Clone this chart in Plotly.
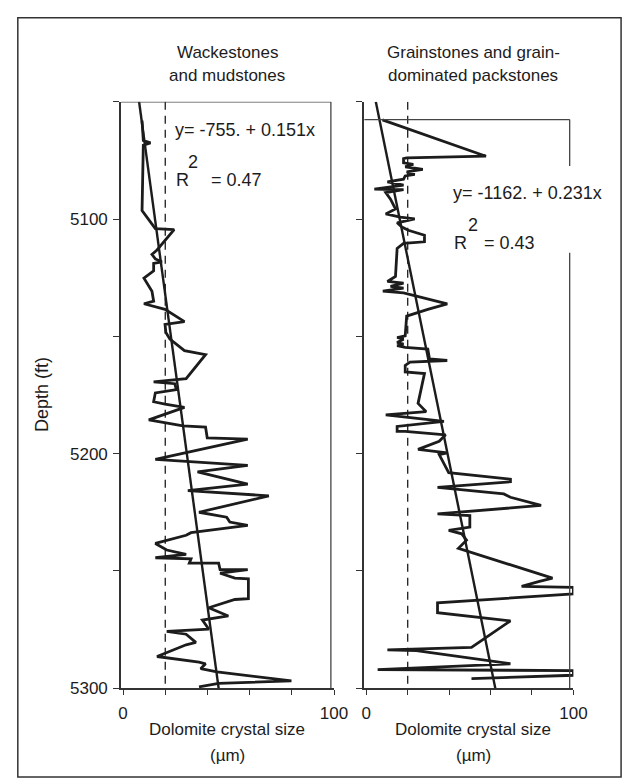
import plotly.graph_objects as go

W, H = 630, 780

# ---------------- data ----------------
depth_ticks = [5050, 5100, 5150, 5200, 5250, 5300]
depth_labels = ["", "5100", "", "5200", "", "5300"]
size_ticks = [0, 20, 40, 60, 80, 100]
size_labels = ["0", "", "", "", "", "100"]

left_size = [9.0, 9.6, 13.0, 9.6, 9.0, 15.3, 24.2, 16.1, 13.7, 15.3, 18.4, 14.5, 14.5, 9.9, 13.7,
             14.5, 9.9, 19.9, 29.1, 19.9, 20.3, 22.2, 29.1, 39.1, 29.9, 14.5, 24.5, 25.3, 15.3,
             14.5, 19.9, 29.1, 12.2, 28.4, 39.1, 39.9, 59.1, 15.3, 59.1, 35.3, 59.1, 30.7, 69.1,
             36.0, 49.1, 50.6, 59.1, 32.2, 29.9, 15.3, 20.7, 29.9, 15.3, 32.2, 31.4, 45.3, 46.0,
             59.1, 46.0, 53.0, 59.4, 59.4, 53.0, 40.6, 49.9, 37.6, 40.6, 20.7, 29.9, 34.5, 29.9,
             16.1, 36.0, 39.1, 36.8, 44.5, 79.8, 45.3, 36.0]
left_depth = [5058.0, 5066.5, 5067.5, 5068.5, 5096.4, 5104.1, 5104.5, 5113.2, 5115.1, 5117.0,
              5118.2, 5118.9, 5122.1, 5125.2, 5130.8, 5135.0, 5136.1, 5138.5, 5143.7, 5144.9,
              5148.4, 5151.2, 5156.1, 5157.8, 5168.0, 5169.4, 5170.2, 5172.7, 5174.1, 5177.9,
              5178.9, 5180.3, 5185.6, 5188.2, 5188.7, 5193.3, 5193.8, 5202.5, 5205.0, 5207.8,
              5213.0, 5215.8, 5218.0, 5225.0, 5227.1, 5229.2, 5230.6, 5233.7, 5234.8, 5238.3,
              5241.1, 5243.0, 5244.4, 5244.9, 5246.7, 5246.7, 5249.5, 5249.5, 5251.0, 5253.1,
              5253.4, 5261.8, 5262.2, 5265.7, 5269.2, 5271.0, 5274.8, 5275.8, 5277.0, 5280.5,
              5281.5, 5286.5, 5288.9, 5289.6, 5291.7, 5293.1, 5296.9, 5298.0, 5299.4]

right_size = [7.8, 57.8, 19.5, 18.0, 18.0, 22.7, 18.8, 27.3, 19.5, 23.4, 18.8, 18.0, 10.2, 18.0,
              3.9, 18.0, 9.4, 11.7, 14.1, 9.4, 16.4, 23.4, 14.9, 17.2, 20.3, 28.1, 28.1, 18.0,
              14.9, 14.1, 10.2, 18.0, 11.7, 18.0, 8.0, 18.0, 39.1, 29.7, 19.5, 18.8, 14.9, 18.0,
              14.9, 18.0, 14.9, 18.8, 29.7, 30.5, 39.1, 21.1, 18.8, 18.8, 28.1, 25.0, 28.9, 9.4,
              37.5, 14.9, 14.9, 18.8, 38.3, 35.2, 25.0, 39.1, 35.2, 39.8, 69.6, 69.6, 34.4, 66.4,
              69.6, 84.4, 34.4, 50.0, 50.0, 39.8, 46.1, 48.4, 44.5, 89.9, 83.6, 75.0, 100.0,
              100.0, 34.4, 34.4, 69.6, 50.8, 10.2, 24.2, 69.6, 5.5, 100.0, 100.0, 50.8]
right_depth = [5057.7, 5073.2, 5073.9, 5074.2, 5076.0, 5076.7, 5077.7, 5078.8, 5079.9, 5080.9,
               5081.6, 5083.0, 5084.1, 5085.5, 5087.2, 5087.5, 5088.7, 5091.5, 5095.7, 5097.8,
               5099.2, 5099.9, 5101.6, 5103.4, 5104.8, 5106.9, 5109.7, 5110.4, 5112.5, 5124.5,
               5126.6, 5127.3, 5128.7, 5129.4, 5130.7, 5131.5, 5136.2, 5138.5, 5141.4, 5149.8,
               5150.5, 5151.2, 5152.6, 5153.3, 5154.0, 5154.7, 5155.4, 5159.6, 5160.3, 5161.0,
               5162.4, 5165.2, 5165.9, 5178.6, 5182.1, 5183.5, 5186.3, 5188.4, 5190.5, 5190.5,
               5192.0, 5194.7, 5198.2, 5199.7, 5200.4, 5208.1, 5210.9, 5212.0, 5214.4, 5217.2,
               5218.6, 5222.1, 5225.7, 5226.4, 5231.3, 5232.7, 5234.2, 5236.9, 5240.4, 5253.1,
               5254.5, 5256.6, 5257.0, 5259.8, 5263.6, 5267.8, 5271.3, 5282.6, 5283.7, 5284.0,
               5289.6, 5292.1, 5292.5, 5294.5, 5295.9]

reg_depth = [5050, 5300]
reg_left_size = [7.6, 45.3]    # y = -755. + 0.151x
reg_right_size = [4.6, 62.3]   # y = -1162. + 0.231x
ref_size = [20, 20]            # dashed reference line

titles_left = ["Wackestones", "and mudstones"]
titles_right = ["Grainstones and grain-", "dominated packstones"]
xtitle = ["Dolomite crystal size", "(µm)"]
ytitle = "Depth (ft)"
eq_left = ["y= -755. + 0.151x", "R", "2", "= 0.47"]
eq_right = ["y= -1162. + 0.231x", "R", "2", "= 0.43"]

# ---------------- helpers ----------------
FONT = "Liberation Sans, Arial, Helvetica, sans-serif"
INK = "#1c1c1c"


def px(x):
    return x / W


def py(y):
    return 1 - y / H


fig = go.Figure()

for xa, ya, s, d, rs in [("x", "y", left_size, left_depth, reg_left_size),
                         ("x2", "y2", right_size, right_depth, reg_right_size)]:
    fig.add_trace(go.Scatter(x=ref_size, y=reg_depth, xaxis=xa, yaxis=ya, mode="lines",
                             line=dict(color=INK, width=1.3, dash="8px,6px"),
                             showlegend=False, hoverinfo="skip"))
    fig.add_trace(go.Scatter(x=rs, y=reg_depth, xaxis=xa, yaxis=ya, mode="lines",
                             line=dict(color=INK, width=2.4), showlegend=False))
    fig.add_trace(go.Scatter(x=s, y=d, xaxis=xa, yaxis=ya, mode="lines",
                             line=dict(color=INK, width=2.8), showlegend=False,
                             cliponaxis=False))

ydom = [py(689), py(95)]
axis_common = dict(showgrid=False, zeroline=False, showline=True, linecolor="#333",
                   linewidth=1.5, ticks="outside", tickcolor="#333", tickwidth=1.3,
                   tickfont=dict(family=FONT, size=17, color=INK))

fig.update_layout(
    width=W, height=H, margin=dict(l=0, r=0, t=0, b=0),
    paper_bgcolor="white", plot_bgcolor="white",
    xaxis=dict(domain=[px(113), px(332)], range=[-1, 100], anchor="y",
               tickvals=size_ticks, ticktext=size_labels, ticklen=5,
               ticklabelstandoff=4, **axis_common),
    yaxis=dict(domain=ydom, range=[5300, 5050], anchor="x",
               tickvals=depth_ticks, ticktext=depth_labels, ticklen=6,
               ticklabelstandoff=2, **axis_common),
    xaxis2=dict(domain=[px(363), px(578)], range=[-1, 100], anchor="y2",
                tickvals=size_ticks, ticktext=size_labels, ticklen=5,
                ticklabelstandoff=4, **axis_common),
    yaxis2=dict(domain=ydom, range=[5300, 5050], anchor="x2",
                tickvals=depth_ticks, ticktext=[""] * len(depth_ticks), ticklen=6,
                **axis_common),
)

shapes = [
    # outer frame
    dict(type="rect", xref="paper", yref="paper", x0=px(7), x1=px(627), y0=py(779), y1=py(10),
         line=dict(color="#333", width=1.5)),
    # left panel box: top and right
    dict(type="line", xref="x", yref="y", x0=-1, x1=98.5, y0=5050, y1=5050,
         line=dict(color="#444", width=1.3)),
    dict(type="line", xref="x", yref="y", x0=98.5, x1=98.5, y0=5050, y1=5300,
         line=dict(color="#444", width=1.3)),
    # right panel box: top and right
    dict(type="line", xref="x2", yref="y2", x0=-1, x1=98.2, y0=5057.6, y1=5057.6,
         line=dict(color="#444", width=1.3)),
    dict(type="line", xref="x2", yref="y2", x0=98.2, x1=98.2, y0=5057.6, y1=5300,
         line=dict(color="#444", width=1.3)),
    # white patch behind right equation
    dict(type="rect", xref="paper", yref="paper", x0=px(448), x1=px(620), y0=py(248),
         y1=py(160), fillcolor="white", line=dict(width=0), layer="above"),
]
fig.update_layout(shapes=shapes)

ann = []


def text(t, x, y, size=17, xanchor="center", angle=0):
    ann.append(dict(text=t, x=px(x), y=py(y), xref="paper", yref="paper", showarrow=False,
                    xanchor=xanchor, yanchor="middle", textangle=angle,
                    font=dict(family=FONT, size=size, color=INK)))


text(titles_left[0], 222, 45)
text(titles_left[1], 222, 68)
text(titles_right[0], 475, 45)
text(titles_right[1], 475, 68)
text(xtitle[0], 222, 731)
text(xtitle[1], 222, 757)
text(xtitle[0], 475, 731)
text(xtitle[1], 475, 757)
text(ytitle, 32, 392, size=18, angle=-90)

text(eq_left[0], 167, 124, size=18, xanchor="left")
text(eq_left[1], 168, 174, size=18, xanchor="left")
text(eq_left[2], 187, 156, size=18, xanchor="center")
text(eq_left[3], 204, 174, size=18, xanchor="left")

text(eq_right[0], 452, 187, size=18, xanchor="left")
text(eq_right[1], 453, 238, size=18, xanchor="left")
text(eq_right[2], 475, 220, size=18, xanchor="center")
text(eq_right[3], 484, 238, size=18, xanchor="left")

fig.update_layout(annotations=ann)

fig.write_html("out.html")
